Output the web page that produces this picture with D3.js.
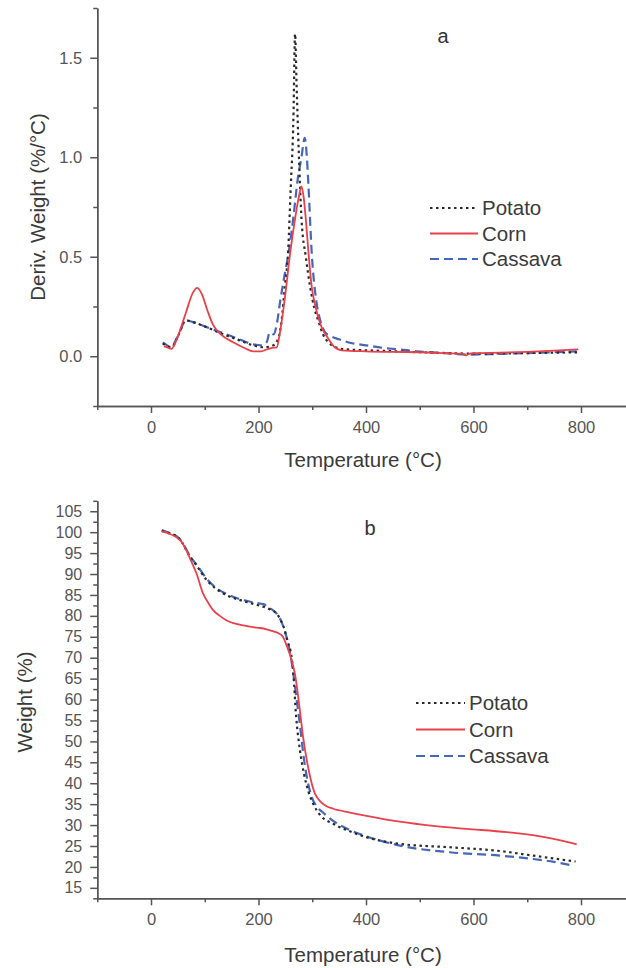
<!DOCTYPE html>
<html>
<head>
<meta charset="utf-8">
<script src="https://cdn.jsdelivr.net/npm/d3@7"></script>
<style>
  body { margin: 0; background: #fff; }
  svg { display: block; font-family: "Liberation Sans", Arial, sans-serif; }
  .axis text { fill: #555; }
  .axis line, .axis path { stroke: #555; stroke-width: 1.5; }
</style>
</head>
<body>
<svg id="chart" width="626" height="968"></svg>
<script>
// ---- panel a : DTG ----
const dtgPotatoT = [22, 30, 38, 50, 65, 80, 100, 130, 160, 190, 210, 228, 238, 243, 249, 255, 260, 265, 268, 271, 275, 280, 288, 296, 304, 311, 320, 330, 340, 360, 400, 450, 500, 550, 600, 650, 700, 750, 795];
const dtgPotato  = [0.065, 0.05, 0.045, 0.1, 0.18, 0.17, 0.15, 0.115, 0.085, 0.055, 0.045, 0.055, 0.1, 0.18, 0.35, 0.52, 0.85, 1.2, 1.62, 1.35, 1.02, 0.69, 0.5, 0.35, 0.24, 0.18, 0.11, 0.07, 0.05, 0.035, 0.03, 0.025, 0.02, 0.016, 0.013, 0.014, 0.016, 0.018, 0.02];

const dtgCornT = [24, 30, 38, 50, 65, 78, 86, 95, 105, 115, 130, 153, 175, 190, 205, 215, 225, 234, 240, 248, 259, 268, 275, 280, 284, 288, 293, 299, 306, 313, 320, 327, 340, 355, 400, 450, 500, 550, 580, 586, 592, 600, 650, 700, 750, 795];
const dtgCorn  = [0.05, 0.045, 0.037, 0.1, 0.22, 0.32, 0.344, 0.31, 0.23, 0.16, 0.11, 0.07, 0.04, 0.025, 0.025, 0.034, 0.042, 0.045, 0.12, 0.27, 0.52, 0.69, 0.8, 0.854, 0.8, 0.69, 0.52, 0.35, 0.25, 0.18, 0.13, 0.1, 0.05, 0.03, 0.025, 0.022, 0.02, 0.015, 0.012, 0.004, 0.012, 0.015, 0.018, 0.022, 0.028, 0.035];

const dtgCassavaT = [22, 30, 36, 50, 65, 80, 100, 130, 160, 190, 205, 215, 221, 228, 234, 240, 248, 256, 265, 273, 280, 286, 290, 293, 299, 308, 316, 324, 335, 350, 370, 400, 432, 460, 494, 550, 587, 650, 700, 750, 792];
const dtgCassava  = [0.07, 0.055, 0.045, 0.1, 0.18, 0.17, 0.15, 0.12, 0.09, 0.06, 0.055, 0.07, 0.12, 0.11, 0.16, 0.27, 0.4, 0.52, 0.7, 0.89, 1.0, 1.098, 1.0, 0.854, 0.52, 0.27, 0.17, 0.12, 0.1, 0.085, 0.068, 0.055, 0.042, 0.035, 0.025, 0.015, 0.008, 0.012, 0.016, 0.02, 0.025];

// ---- panel b : TGA ----
const tgaPotatoT = [20, 35, 48, 58, 66, 75, 85, 104, 120, 141, 160, 178, 195, 209, 222, 234, 242, 249, 255, 259, 265, 270, 277, 285, 293, 302, 314, 339, 370, 401, 463, 556, 649, 711, 750, 790];
const tgaPotato  = [100.3, 99.7, 99, 97.5, 95.6, 93.7, 92, 88.5, 86.6, 84.9, 84, 83.3, 82.7, 82.2, 81.5, 80.5, 78.8, 76.5, 73.5, 72, 66, 56, 48, 42, 38, 35, 32.5, 30.3, 28.5, 27.1, 25.5, 24.7, 23.8, 22.7, 22, 21.3];

const tgaCornT = [20, 35, 48, 58, 66, 75, 85, 97, 108, 116, 128, 141, 155, 172, 190, 203, 215, 228, 238, 246, 252, 259, 268, 277, 283, 290, 297, 305, 314, 325, 339, 370, 401, 463, 525, 587, 662, 724, 760, 792];
const tgaCorn  = [100.2, 99.6, 98.7, 97.5, 95.6, 93, 90, 85.3, 82.8, 81.3, 80, 78.9, 78.2, 77.7, 77.3, 77.1, 76.8, 76.3, 75.8, 74.9, 73, 70.5, 66, 57.4, 51, 45.4, 41, 37.5, 35.8, 34.6, 33.9, 33, 32.2, 30.8, 29.8, 29.1, 28.3, 27.3, 26.4, 25.4];

const tgaCassavaT = [20, 35, 48, 58, 66, 75, 85, 104, 120, 141, 160, 178, 195, 209, 222, 234, 242, 249, 255, 259, 265, 270, 277, 285, 297, 308, 320, 339, 370, 401, 463, 556, 649, 711, 750, 786];
const tgaCassava  = [100.5, 99.8, 99, 97.6, 95.8, 93.8, 92.2, 88.8, 86.8, 85.2, 84.2, 83.6, 83.1, 82.8, 81.8, 80.5, 78.8, 76.3, 73.5, 71, 66, 61, 54, 45.4, 37.5, 34.5, 33, 31, 28.8, 27.3, 25.1, 23.5, 22.7, 21.9, 21.2, 20.3];

const seriesNames = ["Potato", "Corn", "Cassava"];
const xMajor = [0, 200, 400, 600, 800];
const xMinor = [-100, 100, 300, 500, 700];
const dtgMajor = [0.0, 0.5, 1.0, 1.5];
const dtgMinor = [-0.25, 0.25, 0.75, 1.25, 1.75];
const tgaMajor = d3.range(15, 106, 5);
const tgaMinor = d3.range(12.5, 108, 5);

const styles = {
  Potato:  { color: "#2a2a2a", dash: "2.5,3.5", width: 2.2 },
  Corn:    { color: "#e8414b", dash: null,      width: 1.8 },
  Cassava: { color: "#4467b8", dash: "9,5",     width: 2.2 }
};

const svg = d3.select("#chart");

function drawPanel(opt) {
  var x = d3.scaleLinear().domain([-100, 900]).range([97.25, 634.75]);
  var y = d3.scaleLinear().domain(opt.yDomain).range(opt.yRange);
  var g = svg.append("g");

  // x axis, minor ticks first then major with labels
  g.append("g").attr("class", "axis")
    .attr("transform", "translate(0," + opt.yRange[0] + ")")
    .call(d3.axisBottom(x).tickValues(xMinor).tickSize(4).tickSizeOuter(0).tickFormat(""));
  g.append("g").attr("class", "axis")
    .attr("transform", "translate(0," + opt.yRange[0] + ")")
    .call(d3.axisBottom(x).tickValues(xMajor).tickSize(7).tickPadding(8).tickSizeOuter(0).tickFormat(d3.format("d")))
    .selectAll("text").style("font-size", "16.5px");

  // y axis
  g.append("g").attr("class", "axis")
    .attr("transform", "translate(97.25,0)")
    .call(d3.axisLeft(y).tickValues(opt.yMinor).tickSize(4).tickSizeOuter(0).tickFormat(""));
  g.append("g").attr("class", "axis")
    .attr("transform", "translate(97.25,0)")
    .call(d3.axisLeft(y).tickValues(opt.yMajor).tickSize(7).tickPadding(8).tickSizeOuter(0).tickFormat(opt.fmt))
    .selectAll("text").style("font-size", opt.yFont);

  // axis titles
  g.append("text")
    .attr("x", 363).attr("y", opt.xTitleY)
    .attr("text-anchor", "middle")
    .style("font-size", "20.5px").style("fill", "#3a3a3a")
    .text("Temperature (°C)");
  g.append("text")
    .attr("transform", "translate(" + opt.yTitleX + "," + opt.yTitleY + ") rotate(-90)")
    .attr("text-anchor", "middle")
    .style("font-size", "20.5px").style("fill", "#3a3a3a")
    .text(opt.yTitle);

  // panel letter
  g.append("text")
    .attr("x", opt.letterX).attr("y", opt.letterY)
    .attr("text-anchor", "middle")
    .style("font-size", "20px").style("fill", "#333")
    .text(opt.letter);

  var line = d3.line()
    .x(function(d){ return x(d[0]); })
    .y(function(d){ return y(d[1]); })
    .curve(d3.curveMonotoneX);

  // draw cassava, potato then corn on top
  ["Cassava", "Potato", "Corn"].forEach(function(name) {
    var s = opt.series[name];
    var pts = s.t.map(function(t, i){ return [t, s.v[i]]; });
    g.append("path")
      .datum(pts)
      .attr("d", line)
      .attr("fill", "none")
      .attr("stroke", styles[name].color)
      .attr("stroke-width", styles[name].width)
      .attr("stroke-dasharray", styles[name].dash);
  });

  // legend
  var legend = g.selectAll("g.legend")
    .data(seriesNames)
    .enter()
    .append("g")
    .attr("class", "legend")
    .attr("transform", function(d, i){ return "translate(0," + (opt.legY + i * opt.legStep) + ")"; });
  legend.append("line")
    .attr("x1", opt.legX1).attr("x2", opt.legX2)
    .attr("stroke", function(d){ return styles[d].color; })
    .attr("stroke-width", function(d){ return styles[d].width; })
    .attr("stroke-dasharray", function(d){ return styles[d].dash; });
  legend.append("text")
    .attr("x", opt.legX2 + 4)
    .attr("dy", "0.35em")
    .style("font-size", "20.5px").style("fill", "#3a3a3a")
    .text(function(d){ return d; });
}

drawPanel({
  yDomain: [-0.25, 1.75], yRange: [406, 8],
  yMajor: dtgMajor, yMinor: dtgMinor, fmt: d3.format(".1f"), yFont: "16.5px",
  yTitle: "Deriv. Weight (%/°C)", yTitleX: 45, yTitleY: 207, xTitleY: 467,
  letter: "a", letterX: 443, letterY: 43,
  legY: 208, legStep: 25.5, legX1: 430, legX2: 478,
  series: {
    Potato: { t: dtgPotatoT, v: dtgPotato },
    Corn: { t: dtgCornT, v: dtgCorn },
    Cassava: { t: dtgCassavaT, v: dtgCassava }
  }
});

drawPanel({
  yDomain: [12.5, 107.5], yRange: [898.3, 500.8],
  yMajor: tgaMajor, yMinor: tgaMinor, fmt: d3.format("d"), yFont: "16px",
  yTitle: "Weight (%)", yTitleX: 32, yTitleY: 702, xTitleY: 962,
  letter: "b", letterX: 370, letterY: 535,
  legY: 703, legStep: 26.5, legX1: 416, legX2: 465,
  series: {
    Potato: { t: tgaPotatoT, v: tgaPotato },
    Corn: { t: tgaCornT, v: tgaCorn },
    Cassava: { t: tgaCassavaT, v: tgaCassava }
  }
});
</script>
</body>
</html>
